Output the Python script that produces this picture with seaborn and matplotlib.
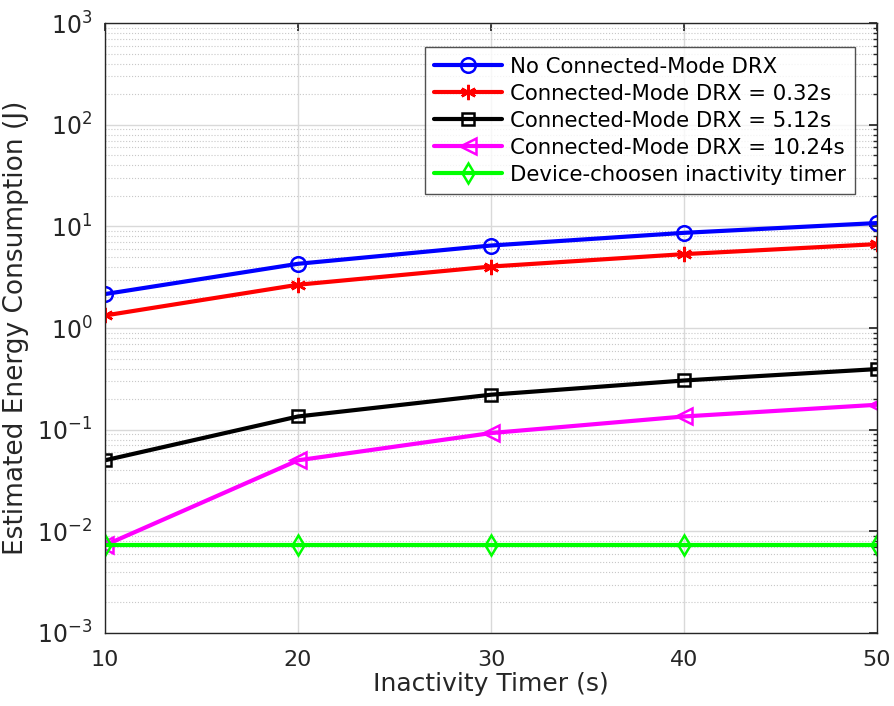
import numpy as np
import pandas as pd
import matplotlib
matplotlib.use("Agg")
import matplotlib.pyplot as plt
import seaborn as sns
from matplotlib.ticker import FixedLocator, LogLocator, NullFormatter, FuncFormatter

# Inactivity timer values (s)
timer = [10, 20, 30, 40, 50]

# Estimated energy consumption (J) per configuration
no_drx = [2.16, 4.29, 6.49, 8.65, 10.8]
drx_032 = [1.33, 2.67, 4.03, 5.34, 6.70]
drx_512 = [0.050, 0.135, 0.221, 0.305, 0.395]
drx_1024 = [0.0073, 0.050, 0.0927, 0.135, 0.176]
device_timer = [0.0073, 0.0073, 0.0073, 0.0073, 0.0073]

# Decade ticks on the energy axis
y_decades = [-3, -2, -1, 0, 1, 2, 3]

labels = [
    "No Connected-Mode DRX",
    "Connected-Mode DRX = 0.32s",
    "Connected-Mode DRX = 5.12s",
    "Connected-Mode DRX = 10.24s",
    "Device-choosen inactivity timer",
]
series = [no_drx, drx_032, drx_512, drx_1024, device_timer]
colors = ["#0000ff", "#ff0000", "#000000", "#ff00ff", "#00ff00"]
markers = ["o", (6, 2, 0), "s", "<", "d"]
msizes = [10.5, 11, 8, 11, 10.5]

df = pd.DataFrame({
    "timer": np.tile(timer, len(series)),
    "energy": np.concatenate(series),
    "series": np.repeat(labels, len(timer)),
})

sns.set_theme(style="white")
plt.rcParams["font.family"] = ["DejaVu Sans"]

fig = plt.figure(figsize=(8.94, 7.06), dpi=100)
ax = fig.add_axes([0.1174, 0.1034, 0.8636, 0.8638])

for lab, col, mk, ms in zip(labels, colors, markers, msizes):
    sub = df[df["series"] == lab]
    sns.lineplot(
        data=sub, x="timer", y="energy", ax=ax, color=col, label=lab,
        linewidth=3.0, marker=mk, markersize=ms,
        markerfacecolor="none", markeredgecolor=col, markeredgewidth=1.8,
    )

ax.set_yscale("log")
ax.set_xlim(min(timer), max(timer))
ax.set_ylim(10.0 ** y_decades[0], 10.0 ** y_decades[-1])
ax.set_xticks(timer)
ax.yaxis.set_major_locator(FixedLocator([10.0 ** d for d in y_decades]))
ax.yaxis.set_major_formatter(
    FuncFormatter(lambda v, p: r"$\mathregular{10^{%d}}$" % round(np.log10(v))))
ax.yaxis.set_minor_locator(LogLocator(base=10, subs=np.arange(2, 10), numticks=100))
ax.yaxis.set_minor_formatter(NullFormatter())

ax.grid(True, which="major", color="#d9d9d9", linewidth=1.0, linestyle="-")
ax.grid(True, which="minor", axis="y", color="#c8c8c8", linewidth=0.8, linestyle=":")
ax.set_axisbelow(True)

for sp in ax.spines.values():
    sp.set_color("#262626")
    sp.set_linewidth(1.0)

ax.tick_params(which="both", direction="in", top=True, right=True,
               color="#262626", labelcolor="#262626")
ax.tick_params(which="major", length=6, labelsize=16)
ax.tick_params(which="minor", length=3)
ax.tick_params(axis="x", which="major", pad=12)
ax.tick_params(axis="y", which="major", pad=9, labelsize=17)

ax.set_xlabel("Inactivity Timer (s)", fontsize=18, color="#262626", labelpad=2)
ax.set_ylabel("Estimated Energy Consumption (J)", fontsize=19, color="#262626",
              labelpad=6)

leg = ax.legend(loc="upper right", bbox_to_anchor=(0.9715, 0.9607),
                fontsize=15.3, frameon=True, fancybox=False, handlelength=3.2,
                borderpad=0.45, labelspacing=0.33, handletextpad=0.35,
                borderaxespad=0.0)
leg.get_frame().set_edgecolor("#262626")
leg.get_frame().set_linewidth(1.0)
for t in leg.get_texts():
    t.set_color("black")

fig.savefig("out.png", dpi=100)
